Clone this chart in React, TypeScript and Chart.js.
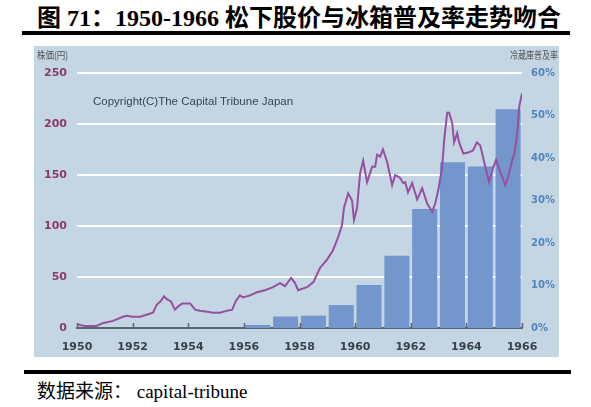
import React, { useEffect, useRef } from "react";
import { Chart, registerables } from "chart.js";

Chart.register(...registerables);

// ---- data ----
const priceYears = [
  1950.0, 1950.1, 1950.3, 1950.7, 1950.95, 1951.3, 1951.65, 1951.8, 1952.0, 1952.27,
  1952.5, 1952.73, 1952.87, 1953.0, 1953.13, 1953.24, 1953.38, 1953.52, 1953.63, 1953.78,
  1954.07, 1954.25, 1954.42, 1954.68, 1954.9, 1955.14, 1955.4, 1955.58, 1955.72, 1955.86,
  1955.97, 1956.22, 1956.47, 1956.76, 1957.05, 1957.3, 1957.48, 1957.7, 1957.84, 1957.95,
  1958.27, 1958.5, 1958.74, 1958.99, 1959.2, 1959.39, 1959.53, 1959.6, 1959.75, 1959.89,
  1959.96, 1960.07, 1960.18, 1960.29, 1960.43, 1960.61, 1960.72, 1960.79, 1960.9, 1961.0,
  1961.15, 1961.33, 1961.44, 1961.62, 1961.73, 1961.8, 1961.9, 1962.05, 1962.23, 1962.41,
  1962.59, 1962.77, 1962.88, 1962.99, 1963.13, 1963.2, 1963.31, 1963.38, 1963.49, 1963.56,
  1963.67, 1963.74, 1963.89, 1964.06, 1964.24, 1964.38, 1964.5, 1964.68, 1964.82, 1964.96,
  1965.07, 1965.22, 1965.4, 1965.5, 1965.65, 1965.72, 1965.83, 1965.9, 1966.0,
];
const priceValues = [
  4, 3, 2, 2, 5, 7, 11, 12, 11, 11,
  13, 15, 23, 26, 31, 28, 26, 18, 21, 24,
  24, 18, 17, 16, 15, 15, 17, 18, 27, 32,
  30, 32, 35, 37, 40, 44, 41, 49, 44, 37,
  40, 45, 59, 67, 76, 89, 101, 118, 132, 125,
  106, 118, 152, 164, 143, 158, 158, 170, 168, 175,
  163, 140, 150, 147, 142, 143, 133, 142, 126, 137,
  122, 114, 122, 135, 158, 184, 211, 211, 201, 182,
  191, 182, 171, 172, 174, 182, 179, 158, 143, 157,
  165, 153, 140, 148, 165, 170, 191, 217, 230,
];
const barYears = [1956, 1957, 1958, 1959, 1960, 1961, 1962, 1963, 1964, 1965];
const fridgeRate = [0.7, 2.7, 2.9, 5.4, 10.1, 17, 28, 39, 38, 51.5];
const yearTicks = [1950, 1952, 1954, 1956, 1958, 1960, 1962, 1964, 1966];
const priceTicks = [0, 50, 100, 150, 200, 250];
const rateTicks = [0, 10, 20, 30, 40, 50, 60];

const titleText = "图 71：1950-1966 松下股价与冰箱普及率走势吻合";
const leftAxisTitle = "株価(円)";
const rightAxisTitle = "冷蔵庫普及率";
const copyrightText = "Copyright(C)The Capital Tribune Japan";
const sourceText = "数据来源： capital-tribune";

export default function App() {
  const ref = useRef<HTMLCanvasElement>(null);

  useEffect(() => {
    const tickMarks = {
      id: "tickMarks",
      afterDatasetsDraw(chart: any) {
        const xs = chart.scales.x;
        const ctx = chart.ctx;
        const b = chart.chartArea.bottom;
        ctx.save();
        ctx.strokeStyle = "#5b6571";
        ctx.lineWidth = 1.5;
        yearTicks.forEach((v) => {
          const px = Math.round(xs.getPixelForValue(v)) + 0.5;
          ctx.beginPath();
          ctx.moveTo(px, b);
          ctx.lineTo(px, b - 5);
          ctx.stroke();
        });
        ctx.restore();
      },
    };

    const tickFont = { family: "'DejaVu Sans', sans-serif", weight: "bold" as const, size: 11 };

    const chart = new Chart(ref.current!, {
      type: "bar",
      data: {
        datasets: [
          {
            type: "line",
            label: "株価",
            data: priceYears.map((x, i) => ({ x, y: priceValues[i] })),
            yAxisID: "y",
            borderColor: "#96509f",
            borderWidth: 2,
            pointRadius: 0,
            tension: 0,
            order: 0,
          } as any,
          {
            type: "bar",
            label: "冷蔵庫普及率",
            data: barYears.map((x, i) => ({ x: x + 0.5, y: fridgeRate[i] })),
            yAxisID: "y1",
            backgroundColor: "#7397cc",
            categoryPercentage: 1,
            barPercentage: 0.9,
            order: 1,
          } as any,
        ],
      },
      options: {
        animation: false,
        responsive: false,
        maintainAspectRatio: false,
        layout: { padding: { top: 27, left: 0, right: 0, bottom: 0 } },
        plugins: { legend: { display: false }, tooltip: { enabled: false } },
        scales: {
          x: {
            type: "linear",
            min: 1950,
            max: 1966,
            offset: false,
            afterBuildTicks: (s: any) => {
              s.ticks = yearTicks.map((v) => ({ value: v }));
            },
            ticks: {
              callback: (v: any) => String(v),
              color: "#3a424c",
              font: tickFont,
              padding: 13,
              maxRotation: 0,
              autoSkip: false,
            },
            grid: { display: false, drawTicks: false, offset: false },
            border: { display: true, color: "#5b6571", width: 2 },
            afterFit: (s: any) => {
              s.height = 29;
            },
          } as any,
          y: {
            position: "left",
            min: 0,
            max: 250,
            afterBuildTicks: (s: any) => {
              s.ticks = priceTicks.map((v) => ({ value: v }));
            },
            ticks: { color: "#8b3b6b", font: tickFont, padding: 10 },
            grid: {
              color: (c: any) => (c.tick && c.tick.value === 0 ? "rgba(0,0,0,0)" : "#ffffff"),
              lineWidth: 2,
              drawTicks: false,
            },
            border: { display: false },
            afterFit: (s: any) => {
              s.width = 43;
            },
          } as any,
          y1: {
            position: "right",
            min: 0,
            max: 60,
            afterBuildTicks: (s: any) => {
              s.ticks = rateTicks.map((v) => ({ value: v }));
            },
            ticks: {
              callback: (v: any) => v + "%",
              color: "#4f87bf",
              font: { family: "'DejaVu Sans', sans-serif", weight: "bold", size: 10 },
              padding: 9,
            },
            grid: { display: false, drawTicks: false },
            border: { display: false },
            afterFit: (s: any) => {
              s.width = 37;
            },
          } as any,
        },
      },
      plugins: [tickMarks],
    });
    return () => chart.destroy();
  }, []);

  return (
    <div
      style={{
        position: "absolute",
        left: 0,
        top: 0,
        width: 591,
        height: 407,
        background: "#ffffff",
        overflow: "hidden",
      }}
    >
      <div
        style={{
          position: "absolute",
          left: 37,
          top: 4,
          whiteSpace: "nowrap",
          fontFamily: "'Liberation Serif', 'Noto Sans CJK SC', serif",
          fontWeight: 700,
          fontSize: 24,
          lineHeight: "28px",
          color: "#000",
        }}
      >
        {titleText}
      </div>
      <div style={{ position: "absolute", left: 22, top: 31, width: 548, height: 4, background: "#000" }} />
      <div
        style={{
          position: "absolute",
          left: 34,
          top: 46,
          width: 525,
          height: 311,
          background: "#c4d5e3",
        }}
      >
        <canvas ref={ref} width={525} height={311} style={{ position: "absolute", left: 0, top: 0 }} />
        <div
          style={{
            position: "absolute",
            left: 3,
            top: 2,
            fontFamily: "'Noto Sans CJK JP', sans-serif",
            fontSize: 10,
            lineHeight: "13px",
            color: "#555",
            whiteSpace: "nowrap",
            transform: "scaleX(0.85)",
            transformOrigin: "left top",
          }}
        >
          {leftAxisTitle}
        </div>
        <div
          style={{
            position: "absolute",
            right: 1,
            top: 2,
            fontFamily: "'Noto Sans CJK JP', sans-serif",
            fontSize: 10,
            lineHeight: "13px",
            color: "#555",
            whiteSpace: "nowrap",
            transform: "scaleX(0.8)",
            transformOrigin: "right top",
          }}
        >
          {rightAxisTitle}
        </div>
        <div
          style={{
            position: "absolute",
            left: 59,
            top: 48,
            fontFamily: "'Liberation Sans', sans-serif",
            fontSize: 11.5,
            lineHeight: "14px",
            color: "#3a4654",
            whiteSpace: "nowrap",
          }}
        >
          {copyrightText}
        </div>
      </div>
      <div style={{ position: "absolute", left: 24, top: 370, width: 547, height: 4, background: "#000" }} />
      <div
        style={{
          position: "absolute",
          left: 37,
          top: 380,
          whiteSpace: "nowrap",
          fontFamily: "'Liberation Serif', 'Noto Sans CJK SC', serif",
          fontSize: 19,
          lineHeight: "24px",
          color: "#000",
        }}
      >
        {sourceText}
      </div>
    </div>
  );
}
